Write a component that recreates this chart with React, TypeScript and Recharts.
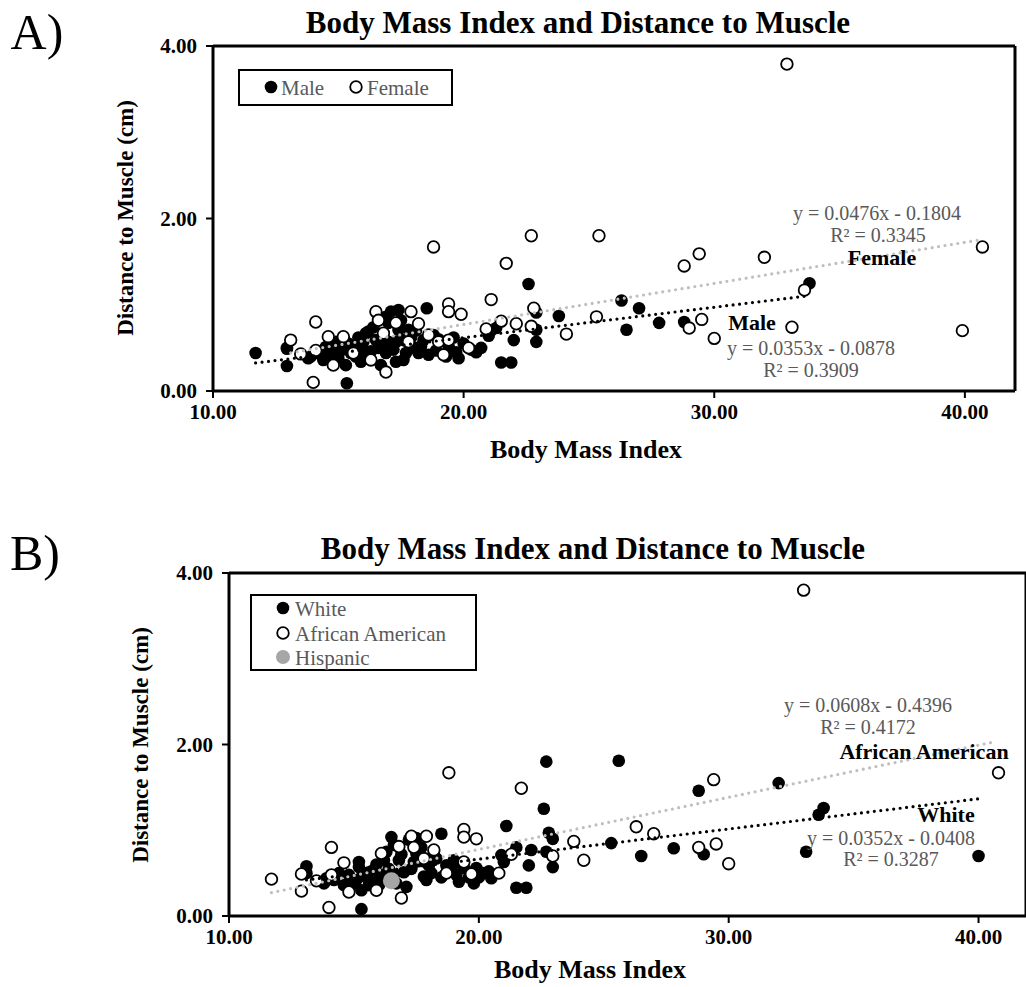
import React from "react";
import { ScatterChart, Scatter, XAxis, YAxis, ReferenceLine } from "recharts";

// ---------- Data ----------
const xTicks = [10, 20, 30, 40];
const yTicks = [0, 2, 4];

const maleBMI = [11.7, 12.95, 12.95, 12.95, 13.8, 13.9, 14.2, 14.4, 14.5, 14.6, 14.8, 14.9, 15.0, 15.1, 15.3, 15.3, 15.34, 15.4, 15.5, 15.7, 15.7, 15.8, 15.9, 15.9, 16.0, 16.0, 16.1, 16.2, 16.2, 16.3, 16.4, 16.5, 16.6, 16.7, 16.8, 16.9, 16.9, 17.0, 17.0, 17.1, 17.2, 17.3, 17.3, 17.4, 17.4, 17.5, 17.6, 17.6, 17.7, 17.8, 17.9, 18.0, 18.1, 18.2, 18.3, 18.4, 18.53, 18.6, 18.8, 18.9, 19.0, 19.3, 19.4, 19.6, 19.7, 19.8, 20.0, 20.3, 20.5, 20.7, 21.0, 21.3, 21.5, 21.9, 22.0, 22.59, 22.9, 22.9, 22.9, 23.8, 26.3, 26.5, 27.0, 27.8, 28.8, 33.8];
const maleDist = [0.44, 0.49, 0.29, 0.50, 0.38, 0.40, 0.44, 0.36, 0.51, 0.42, 0.44, 0.57, 0.38, 0.47, 0.30, 0.52, 0.09, 0.55, 0.44, 0.40, 0.50, 0.62, 0.34, 0.53, 0.45, 0.57, 0.67, 0.69, 0.38, 0.46, 0.74, 0.59, 0.50, 0.30, 0.62, 0.44, 0.86, 0.57, 0.79, 0.92, 0.48, 0.34, 0.57, 0.94, 0.71, 0.82, 0.59, 0.36, 0.44, 0.71, 0.62, 0.50, 0.70, 0.44, 0.52, 0.59, 0.96, 0.42, 0.65, 0.47, 0.60, 0.40, 0.52, 0.62, 0.45, 0.38, 0.55, 0.48, 0.45, 0.50, 0.64, 0.73, 0.33, 0.33, 0.59, 1.24, 0.91, 0.71, 0.57, 0.87, 1.05, 0.71, 0.96, 0.79, 0.80, 1.25];

const femaleBMI = [13.1, 13.5, 14.0, 14.1, 14.1, 14.6, 14.8, 15.2, 15.6, 16.3, 16.5, 16.6, 16.8, 16.9, 17.3, 17.8, 17.9, 18.2, 18.6, 18.8, 19.0, 19.2, 19.4, 19.4, 19.4, 19.9, 20.2, 20.9, 21.1, 21.5, 21.7, 22.1, 22.7, 22.7, 22.8, 24.1, 25.3, 25.4, 28.8, 29.0, 29.4, 29.5, 30.0, 32.0, 32.9, 33.1, 33.6, 39.9, 40.7];
const femaleDist = [0.59, 0.43, 0.10, 0.80, 0.47, 0.63, 0.30, 0.63, 0.44, 0.36, 0.92, 0.82, 0.67, 0.22, 0.79, 0.57, 0.92, 0.78, 0.65, 1.67, 0.57, 0.42, 1.01, 0.92, 0.59, 0.89, 0.50, 0.72, 1.06, 0.81, 1.48, 0.78, 1.80, 0.75, 0.96, 0.66, 0.86, 1.80, 1.45, 0.73, 1.59, 0.83, 0.61, 1.55, 3.79, 0.74, 1.17, 0.70, 1.67];

const whiteBMI = [13.1, 13.1, 13.8, 13.9, 14.2, 14.4, 14.6, 14.8, 15.0, 15.1, 15.2, 15.2, 15.3, 15.3, 15.4, 15.5, 15.6, 15.6, 15.8, 15.9, 15.9, 16.0, 16.1, 16.2, 16.3, 16.4, 16.5, 16.6, 16.6, 16.7, 16.8, 16.9, 17.0, 17.1, 17.2, 17.3, 17.4, 17.5, 17.5, 17.6, 17.7, 17.8, 17.9, 18.0, 18.1, 18.2, 18.3, 18.5, 18.5, 18.7, 18.9, 19.0, 19.1, 19.2, 19.3, 19.4, 19.6, 19.8, 19.9, 20.0, 20.2, 20.4, 20.5, 20.9, 21.0, 21.1, 21.5, 21.5, 21.9, 22.0, 22.1, 22.6, 22.7, 22.7, 22.8, 22.96, 22.96, 25.3, 25.6, 26.5, 27.8, 28.8, 29.0, 32.0, 33.1, 33.6, 33.8, 40.0];
const whiteDist = [0.58, 0.50, 0.38, 0.44, 0.42, 0.50, 0.36, 0.48, 0.38, 0.42, 0.63, 0.57, 0.30, 0.08, 0.50, 0.45, 0.51, 0.36, 0.54, 0.40, 0.60, 0.36, 0.48, 0.65, 0.75, 0.55, 0.92, 0.83, 0.48, 0.38, 0.65, 0.72, 0.51, 0.34, 0.89, 0.55, 0.63, 0.91, 0.73, 0.64, 0.80, 0.46, 0.42, 0.59, 0.50, 0.75, 0.67, 0.96, 0.45, 0.59, 0.55, 0.65, 0.48, 0.40, 0.62, 0.56, 0.45, 0.38, 0.56, 0.45, 0.50, 0.52, 0.44, 0.71, 0.63, 1.05, 0.80, 0.33, 0.33, 0.59, 0.77, 1.25, 1.80, 0.75, 0.97, 0.90, 0.57, 0.85, 1.81, 0.70, 0.79, 1.46, 0.72, 1.55, 0.75, 1.18, 1.26, 0.70];

const aaBMI = [11.7, 12.9, 12.9, 13.5, 14.0, 14.1, 14.1, 14.6, 14.8, 15.9, 16.1, 16.8, 16.9, 17.3, 17.4, 17.8, 17.9, 18.2, 18.7, 18.8, 19.4, 19.4, 19.4, 19.7, 19.9, 20.8, 21.3, 21.7, 22.96, 23.8, 24.2, 26.3, 27.0, 28.8, 29.4, 29.5, 30.0, 33.0, 40.8];
const aaDist = [0.43, 0.49, 0.29, 0.41, 0.10, 0.80, 0.48, 0.62, 0.28, 0.30, 0.73, 0.81, 0.21, 0.93, 0.80, 0.67, 0.93, 0.77, 0.50, 1.67, 1.01, 0.92, 0.63, 0.49, 0.90, 0.50, 0.72, 1.49, 0.70, 0.87, 0.65, 1.04, 0.96, 0.80, 1.59, 0.84, 0.61, 3.80, 1.67];

const hispBMI = [16.5];
const hispDist = [0.41];

// Trendline end points
const maleTrendX = [11.7, 33.7];
const maleTrendY = [0.325, 1.102];
const femaleTrendX = [13.1, 40.7];
const femaleTrendY = [0.443, 1.757];
const whiteTrendX = [13.1, 40.0];
const whiteTrendY = [0.420, 1.367];
const aaTrendX = [11.7, 40.7];
const aaTrendY = [0.272, 2.035];

const zip = (xs: number[], ys: number[]) => xs.map((x, i) => ({ x, y: ys[i] }));

const FONT = '"Liberation Serif", "Times New Roman", serif';
const GRAY_TEXT = "#595959";

const FilledDot = (p: any) => <circle cx={p.cx} cy={p.cy} r={6.3} fill="#000" />;
const OpenDot = (p: any) => (
  <circle cx={p.cx} cy={p.cy} r={5.8} fill="#fff" stroke="#000" strokeWidth={1.8} />
);
const HispDot = (p: any) => <circle cx={p.cx} cy={p.cy} r={8.5} fill="#a6a6a6" />;
const NoDot = () => <g />;

const tickStyle = { fontFamily: FONT, fontWeight: 700, fontSize: 21, fill: "#000" };

function Panel({
  height,
  margin,
  xMax,
  series,
  trends,
}: {
  height: number;
  margin: any;
  xMax: number;
  series: { data: any[]; shape: any }[];
  trends: { data: any[]; color: string }[];
}) {
  return (
    <ScatterChart width={1026} height={height} margin={margin}>
      <XAxis
        type="number"
        dataKey="x"
        domain={[10, xMax]}
        ticks={xTicks}
        allowDataOverflow
        tickFormatter={(v: number) => v.toFixed(2)}
        axisLine={{ stroke: "#000", strokeWidth: 3 }}
        tickLine={{ stroke: "#000", strokeWidth: 2 }}
        tickSize={7}
        tickMargin={6}
        tick={tickStyle}
        height={30}
      />
      <YAxis
        type="number"
        dataKey="y"
        domain={[0, 4]}
        ticks={yTicks}
        allowDataOverflow
        tickFormatter={(v: number) => v.toFixed(2)}
        axisLine={{ stroke: "#000", strokeWidth: 3 }}
        tickLine={{ stroke: "#000", strokeWidth: 2 }}
        tickSize={7}
        tickMargin={9}
        tick={tickStyle}
        width={60}
      />
      <ReferenceLine y={4} stroke="#000" strokeWidth={3} />
      <ReferenceLine x={xMax} stroke="#000" strokeWidth={3} />
      {series.map((s, i) => (
        <Scatter key={"s" + i} data={s.data} shape={s.shape} isAnimationActive={false} />
      ))}
      {trends.map((t, i) => (
        <Scatter
          key={"t" + i}
          data={t.data}
          shape={NoDot}
          line={{ stroke: t.color, strokeWidth: 3.2, strokeDasharray: "0 6.5", strokeLinecap: "round" } as any}
          isAnimationActive={false}
        />
      ))}
    </ScatterChart>
  );
}

const abs = (left: number, top: number, extra: any = {}): React.CSSProperties => ({
  position: "absolute",
  left,
  top,
  transform: "translate(-50%, -50%)",
  whiteSpace: "nowrap",
  fontFamily: FONT,
  lineHeight: 1,
  ...extra,
});

function Txt({ x, y, children, style }: any) {
  return <div style={abs(x, y, style)}>{children}</div>;
}

function Marker({ kind }: { kind: "filled" | "open" | "hisp" }) {
  return (
    <svg width={16} height={16} style={{ display: "block" }}>
      {kind === "filled" && <circle cx={8} cy={8} r={6.3} fill="#000" />}
      {kind === "open" && <circle cx={8} cy={8} r={5.8} fill="#fff" stroke="#000" strokeWidth={1.8} />}
      {kind === "hisp" && <circle cx={8} cy={8} r={7} fill="#a6a6a6" />}
    </svg>
  );
}

export default function App() {
  const eq = { fontSize: 20, color: GRAY_TEXT };
  const bold = { fontSize: 22, fontWeight: 700, color: "#000" };
  const title = { fontSize: 31, fontWeight: 700, color: "#000" };
  const axisLbl = { fontSize: 26, fontWeight: 700, color: "#000" };
  const yLbl = { fontSize: 23, fontWeight: 700, color: "#000" };
  const letter = { fontSize: 50, color: "#000" };
  const legText = { fontSize: 21, color: GRAY_TEXT, fontFamily: FONT, lineHeight: 1 };

  return (
    <div style={{ position: "absolute", left: 0, top: 0, width: 1026, height: 987, background: "#fff", overflow: "hidden" }}>
      {/* Panel A */}
      <div style={{ position: "absolute", left: 0, top: 0 }}>
        <Panel
          height={470}
          margin={{ top: 46, right: 11, bottom: 49, left: 153 }}
          xMax={42}
          series={[
            { data: zip(maleBMI, maleDist), shape: FilledDot },
            { data: zip(femaleBMI, femaleDist), shape: OpenDot },
          ]}
          trends={[
            { data: zip(maleTrendX, maleTrendY), color: "#000" },
            { data: zip(femaleTrendX, femaleTrendY), color: "#bfbfbf" },
          ]}
        />
      </div>
      {/* Panel B */}
      <div style={{ position: "absolute", left: 0, top: 500 }}>
        <Panel
          height={487}
          margin={{ top: 73, right: 0, bottom: 41, left: 169 }}
          xMax={41.9}
          series={[
            { data: zip(whiteBMI, whiteDist), shape: FilledDot },
            { data: zip(aaBMI, aaDist), shape: OpenDot },
            { data: zip(hispBMI, hispDist), shape: HispDot },
          ]}
          trends={[
            { data: zip(whiteTrendX, whiteTrendY), color: "#000" },
            { data: zip(aaTrendX, aaTrendY), color: "#bfbfbf" },
          ]}
        />
      </div>

      {/* Panel letters and titles */}
      <Txt x={37} y={32} style={letter}>A)</Txt>
      <Txt x={35} y={553} style={letter}>B)</Txt>
      <Txt x={578} y={22} style={title}>Body Mass Index and Distance to Muscle</Txt>
      <Txt x={593} y={548} style={title}>Body Mass Index and Distance to Muscle</Txt>

      {/* Axis labels */}
      <Txt x={586} y={450} style={axisLbl}>Body Mass Index</Txt>
      <Txt x={590} y={970} style={axisLbl}>Body Mass Index</Txt>
      <Txt x={125} y={218} style={{ ...yLbl, transform: "translate(-50%, -50%) rotate(-90deg)" }}>
        Distance to Muscle (cm)
      </Txt>
      <Txt x={140} y={745} style={{ ...yLbl, transform: "translate(-50%, -50%) rotate(-90deg)" }}>
        Distance to Muscle (cm)
      </Txt>

      {/* Legend A */}
      <div
        style={{
          position: "absolute",
          left: 238,
          top: 69,
          width: 215,
          height: 37,
          boxSizing: "border-box",
          border: "2px solid #000",
          background: "#fff",
        }}
      >
        <div style={{ position: "absolute", left: 23, top: 8 }}><Marker kind="filled" /></div>
        <div style={{ position: "absolute", left: 41, top: 7, ...legText }}>Male</div>
        <div style={{ position: "absolute", left: 108, top: 8 }}><Marker kind="open" /></div>
        <div style={{ position: "absolute", left: 127, top: 7, ...legText }}>Female</div>
      </div>

      {/* Legend B */}
      <div
        style={{
          position: "absolute",
          left: 250,
          top: 594,
          width: 227,
          height: 77,
          boxSizing: "border-box",
          border: "2px solid #000",
          background: "#fff",
        }}
      >
        <div style={{ position: "absolute", left: 23, top: 4 }}><Marker kind="filled" /></div>
        <div style={{ position: "absolute", left: 43, top: 3, ...legText }}>White</div>
        <div style={{ position: "absolute", left: 23, top: 29 }}><Marker kind="open" /></div>
        <div style={{ position: "absolute", left: 43, top: 28, ...legText }}>African American</div>
        <div style={{ position: "absolute", left: 23, top: 53 }}><Marker kind="hisp" /></div>
        <div style={{ position: "absolute", left: 43, top: 52, ...legText }}>Hispanic</div>
      </div>

      {/* Annotations A */}
      <Txt x={877} y={213} style={eq}>y = 0.0476x - 0.1804</Txt>
      <Txt x={878} y={235} style={eq}>R² = 0.3345</Txt>
      <Txt x={882} y={258} style={bold}>Female</Txt>
      <Txt x={752} y={323} style={bold}>Male</Txt>
      <Txt x={811} y={348} style={eq}>y = 0.0353x - 0.0878</Txt>
      <Txt x={811} y={370} style={eq}>R² = 0.3909</Txt>

      {/* Annotations B */}
      <Txt x={868} y={705} style={eq}>y = 0.0608x - 0.4396</Txt>
      <Txt x={868} y={727} style={eq}>R² = 0.4172</Txt>
      <Txt x={924} y={752} style={bold}>African American</Txt>
      <Txt x={946} y={815} style={bold}>White</Txt>
      <Txt x={891} y={838} style={eq}>y = 0.0352x - 0.0408</Txt>
      <Txt x={891} y={859} style={eq}>R² = 0.3287</Txt>
    </div>
  );
}
